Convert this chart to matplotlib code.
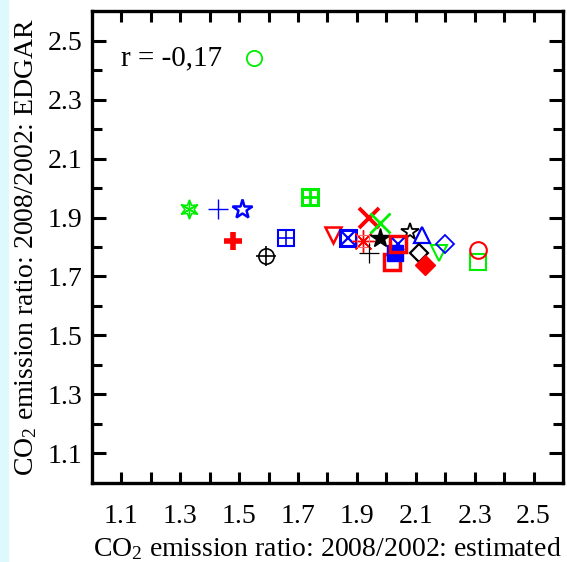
import matplotlib
matplotlib.use("Agg")
import matplotlib.pyplot as plt
from matplotlib.patches import Rectangle

plt.rcParams['font.family'] = ['Liberation Serif', 'DejaVu Serif']
plt.rcParams['mathtext.fontset'] = 'custom'
plt.rcParams['mathtext.rm'] = 'Liberation Serif'
plt.rcParams['mathtext.it'] = 'Liberation Serif:italic'

# CO2 emission ratio 2008/2002 per country: estimated vs EDGAR
x_est = [1.55, 1.33, 1.43, 1.51, 1.48, 1.59, 1.66, 1.74, 1.82, 1.87, 1.92,
         1.94, 1.94, 1.98, 1.98, 2.08, 2.12, 2.02, 2.03, 2.04, 2.11, 2.13,
         2.18, 2.20, 2.31, 2.31]
y_edgar = [2.44, 1.93, 1.93, 1.93, 1.82, 1.77, 1.83, 1.97, 1.84, 1.83, 1.82,
           1.78, 1.90, 1.88, 1.83, 1.85, 1.84, 1.75, 1.78, 1.81, 1.78, 1.74,
           1.78, 1.81, 1.75, 1.79]
r_text = "r = -0,17"

G, B, R, K = '#00ee00', '#0000ff', '#ff0000', '#000000'

# marker styles per point: list of (marker, color, filled, size, edge width)
styles = [
    [('o', G, False, 11, 1.3)],
    [((6, 1, 0), G, False, 13, 1.2), ((6, 2, 0), G, False, 14, 1.0)],
    [('+', B, False, 15, 1.0)],
    [('*', B, False, 15, 1.8)],
    [('+', R, False, 13, 4.0)],
    [('o', K, False, 11, 1.2), ('+', K, False, 14, 1.2)],
    [('s', B, False, 11, 1.5), ('+', B, False, 11, 1.2)],
    [('s', G, False, 11, 2.2), ('+', G, False, 11, 2.0)],
    [('v', R, False, 11, 1.8)],
    [('s', B, False, 12, 2.2), ('x', B, False, 11, 1.6)],
    [((8, 2, 0), R, False, 16, 1.0), ('s', '#ff6666', False, 9, 0.8)],
    [('+', K, False, 15, 0.9)],
    [('x', R, False, 14, 2.8)],
    [('x', G, False, 14, 2.0)],
    [('*', K, True, 15, 1.0)],
    [('*', K, False, 13, 1.3)],
    [('^', B, False, 11, 1.6)],
    [('s', R, False, 12, 2.5)],
    [('s', B, True, 11, 1.0)],
    [('s', R, False, 12, 2.5), ('x', B, False, 9, 1.5)],
    [('D', K, False, 9, 1.6)],
    [('D', R, True, 10, 1.0)],
    [('v', G, False, 11, 1.5)],
    [('D', B, False, 9, 1.3)],
    [('s', G, False, 12, 1.5)],
    [('o', R, False, 12, 1.5)],
]

fig = plt.figure(figsize=(5.67, 5.62), dpi=100)
fig.patches.append(Rectangle((0, 0), 8 / 567, 1, transform=fig.transFigure,
                             color='#ddf9fc', zorder=0))
ax = fig.add_axes([0.162, 0.141, 0.831, 0.839])

for xv, yv, parts in zip(x_est, y_edgar, styles):
    for m, c, filled, s, lw in parts:
        ax.plot(xv, yv, linestyle='none', marker=m, markersize=s,
                markeredgecolor=c, markerfacecolor=c if filled else 'none',
                markeredgewidth=lw)

ax.text(1.10, 2.44, r_text, fontsize=21, va='center', ha='left')

ax.set_xlim(1.0, 2.6)
ax.set_ylim(1.0, 2.6)
ax.set_xticks([1.1, 1.3, 1.5, 1.7, 1.9, 2.1, 2.3, 2.5])
ax.set_yticks([1.1, 1.3, 1.5, 1.7, 1.9, 2.1, 2.3, 2.5])
ax.set_xticks([1.2, 1.4, 1.6, 1.8, 2.0, 2.2, 2.4], minor=True)
ax.set_yticks([1.2, 1.4, 1.6, 1.8, 2.0, 2.2, 2.4], minor=True)

ax.tick_params(which='both', direction='in', top=True, right=True, width=2.2,
               labelsize=20)
ax.tick_params(axis='y', which='major', length=10, pad=7)
ax.tick_params(axis='y', which='minor', length=7)
ax.tick_params(axis='x', which='both', length=8, pad=15)
for sp in ax.spines.values():
    sp.set_linewidth(2.4)

ax.set_xlabel("CO$_2$ emission ratio: 2008/2002: estimated", fontsize=20,
              labelpad=5)
ax.set_ylabel("CO$_2$ emission ratio: 2008/2002: EDGAR", fontsize=20,
              labelpad=6)

fig.savefig("out.png", dpi=100)
